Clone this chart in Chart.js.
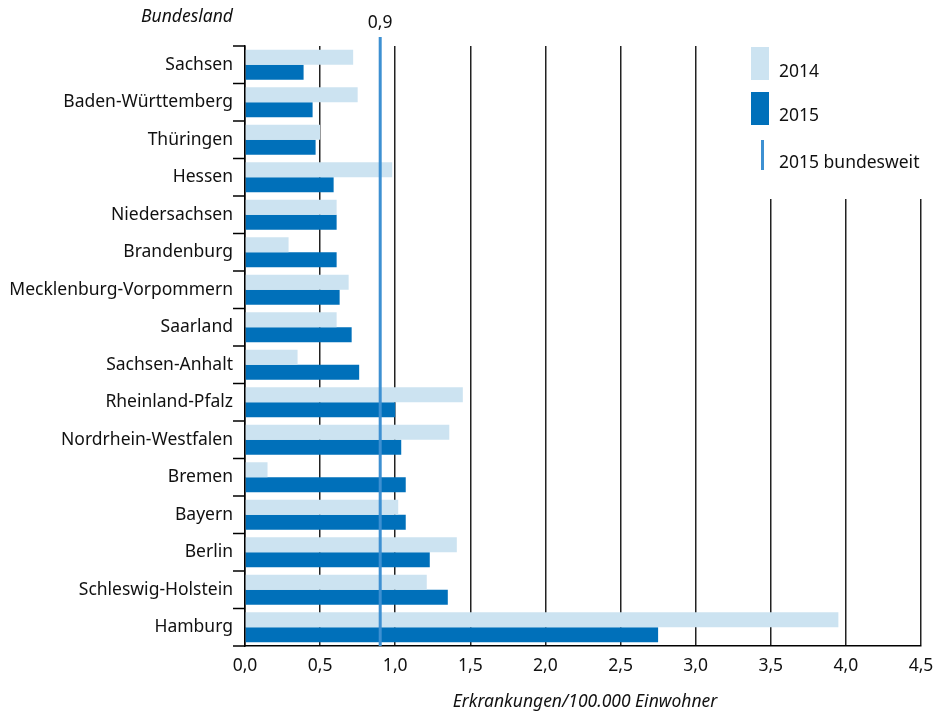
<!DOCTYPE html>
<html><head><meta charset="utf-8">
<script src="https://cdn.jsdelivr.net/npm/chart.js@4"></script>
<style>html,body{margin:0;padding:0;background:#fff}</style>
</head><body>
<canvas id="c" width="936" height="715" style="width:936px;height:715px;display:block"></canvas>
<script>
const categories = ["Sachsen","Baden-Württemberg","Thüringen","Hessen","Niedersachsen","Brandenburg","Mecklenburg-Vorpommern","Saarland","Sachsen-Anhalt","Rheinland-Pfalz","Nordrhein-Westfalen","Bremen","Bayern","Berlin","Schleswig-Holstein","Hamburg"];
const values2014 = [0.72,0.75,0.50,0.98,0.61,0.29,0.69,0.61,0.35,1.45,1.36,0.15,1.02,1.41,1.21,3.95];
const values2015 = [0.39,0.45,0.47,0.59,0.61,0.61,0.63,0.71,0.76,1.00,1.04,1.07,1.07,1.23,1.35,2.75];
const bundesweit2015 = 0.9;
const seriesLabels = ["2014","2015","2015 bundesweit"];
const yAxisTitle = "Bundesland";
const xAxisTitle = "Erkrankungen/100.000 Einwohner";

const FONT = "'Noto Sans', sans-serif";
const FS = 17.5;
const LIGHT = "#cce3f1", DARK = "#0070ba", LINE = "#3d90d2";
const fmt = v => Number(v).toFixed(1).replace('.', ',');

const overlay = {
  id: 'overlay',
  afterDatasetsDraw(chart) {
    const ctx = chart.ctx, x = chart.scales.x, a = chart.chartArea;
    const px = x.getPixelForValue(bundesweit2015);
    ctx.save();
    ctx.strokeStyle = LINE; ctx.lineWidth = 3;
    ctx.beginPath(); ctx.moveTo(px, a.top - 9); ctx.lineTo(px, a.bottom); ctx.stroke();
    ctx.restore();
  },
  afterDraw(chart) {
    const ctx = chart.ctx, x = chart.scales.x, a = chart.chartArea;
    ctx.save();
    ctx.strokeStyle = '#000'; ctx.lineWidth = 1.5;
    const n = categories.length;
    for (let i = 0; i <= n; i++) {
      const yy = a.top + (a.bottom - a.top) * i / n;
      ctx.beginPath(); ctx.moveTo(a.left - 12, yy); ctx.lineTo(a.left, yy); ctx.stroke();
    }
    ctx.fillStyle = '#fff';
    ctx.fillRect(742, a.top - 2, 936 - 742, 199 - a.top + 2);
    ctx.fillStyle = LIGHT; ctx.fillRect(751, 47, 18, 33);
    ctx.fillStyle = DARK; ctx.fillRect(751, 92, 18, 33);
    ctx.fillStyle = LINE; ctx.fillRect(761, 140, 3, 30);
    ctx.fillStyle = '#111';
    ctx.font = FS + "px " + FONT;
    ctx.textBaseline = 'middle'; ctx.textAlign = 'left';
    ctx.fillText(seriesLabels[0], 779, 72);
    ctx.fillText(seriesLabels[1], 779, 116);
    ctx.fillText(seriesLabels[2], 779, 163);
    ctx.textAlign = 'center';
    ctx.fillText(fmt(bundesweit2015), x.getPixelForValue(bundesweit2015), 23);
    ctx.font = "italic " + FS + "px " + FONT;
    ctx.fillText(yAxisTitle, 187, 17);
    ctx.fillText(xAxisTitle, 585, 702);
    ctx.restore();
  }
};

new Chart(document.getElementById('c'), {
  type: 'bar',
  data: {
    labels: categories,
    datasets: [
      { label: seriesLabels[0], data: values2014, backgroundColor: LIGHT, barPercentage: 1, categoryPercentage: 0.8 },
      { label: seriesLabels[1], data: values2015, backgroundColor: DARK, barPercentage: 1, categoryPercentage: 0.8 }
    ]
  },
  options: {
    indexAxis: 'y',
    responsive: false,
    animation: false,
    layout: { padding: { top: 46, right: 15, left: 0, bottom: 0 } },
    plugins: { legend: { display: false }, tooltip: { enabled: false } },
    scales: {
      x: {
        min: 0, max: 4.5,
        ticks: { stepSize: 0.5, callback: v => fmt(v), color: '#111', font: { family: FONT, size: FS }, padding: 10, maxRotation: 0 },
        grid: { color: '#222', lineWidth: 1.5, drawTicks: false },
        border: { display: true, color: '#000', width: 1.5 },
        afterFit: s => { s.height = 69; s.paddingLeft = 0; s.paddingRight = 0; }
      },
      y: {
        ticks: { color: '#111', font: { family: FONT, size: FS }, padding: 12 },
        grid: { drawOnChartArea: false, drawTicks: false },
        border: { display: true, color: '#000', width: 1.5 },
        afterFit: s => { s.width = 245; }
      }
    }
  },
  plugins: [overlay]
});
</script>
</body></html>
